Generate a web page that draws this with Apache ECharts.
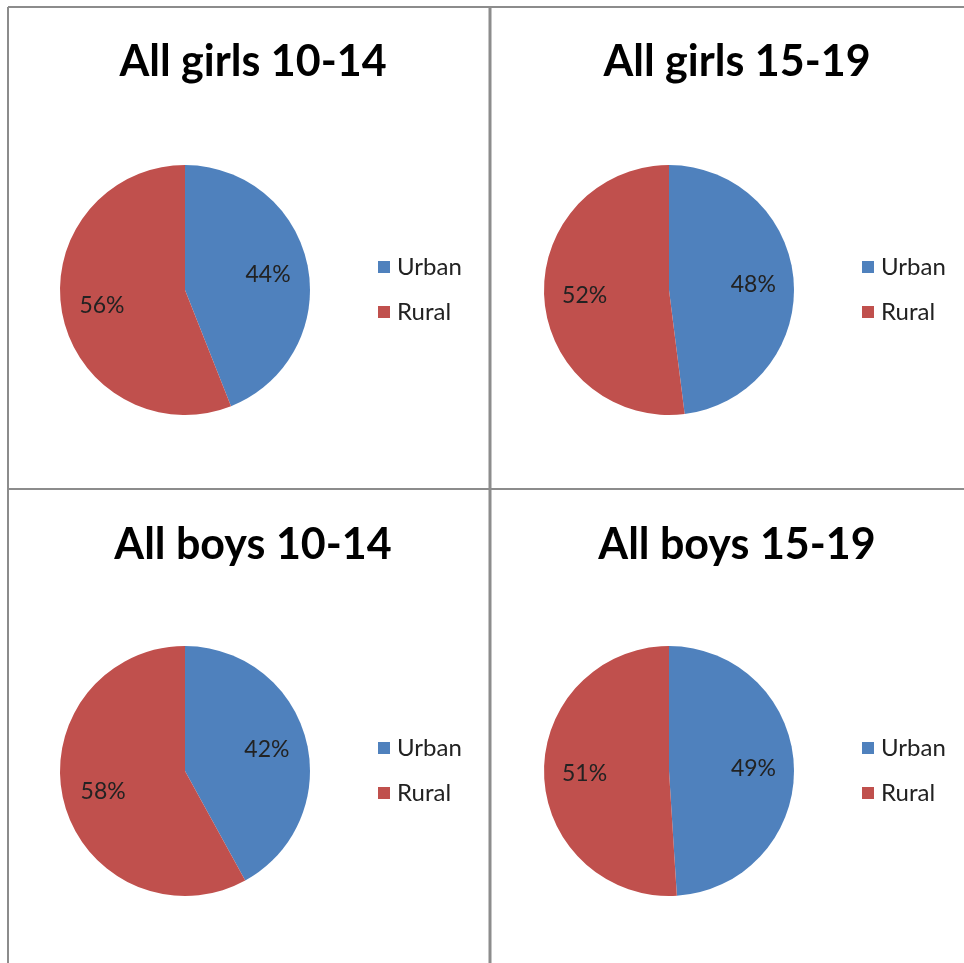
<!DOCTYPE html>
<html>
<head>
<meta charset="utf-8">
<script src="https://cdn.jsdelivr.net/npm/echarts@6/dist/echarts.min.js"></script>
<style>
  html, body { margin: 0; padding: 0; background: #fff; }
  #main { width: 964px; height: 963px; }
</style>
</head>
<body>
<div id="main"></div>
<script>
// chart data
const titles = ['All girls 10-14', 'All girls 15-19', 'All boys 10-14', 'All boys 15-19']
const categories = ['Urban', 'Rural']
const urbanShare = [44, 48, 42, 49]
const ruralShare = [56, 52, 58, 51]
const colors = ['#4F81BD', '#C0504D']

// panel layout: pie centres and title/legend anchors
const panels = [
  { cx: 185, cy: 290, tx: 248, ty: 36, lx: 373, ly: 250 },
  { cx: 669, cy: 290, tx: 732, ty: 36, lx: 857, ly: 250 },
  { cx: 185, cy: 771, tx: 248, ty: 519, lx: 373, ly: 731 },
  { cx: 669, cy: 771, tx: 732, ty: 519, lx: 857, ly: 731 }
]
const R = 125

let chart = echarts.init(document.getElementById('main'))

let series = []
let title = []
let legend = []

panels.forEach((p, i) => {
  let data = [
    { name: categories[0], value: urbanShare[i] },
    { name: categories[1], value: ruralShare[i] }
  ]
  // visible pie
  series.push({
    type: 'pie',
    center: [p.cx, p.cy],
    radius: [0, R],
    startAngle: 90,
    clockwise: true,
    silent: true,
    label: { show: false },
    labelLine: { show: false },
    itemStyle: { borderWidth: 0 },
    data: data
  })
  // transparent ring only used to place the percent labels
  series.push({
    type: 'pie',
    center: [p.cx, p.cy],
    radius: [38, R],
    startAngle: 90,
    clockwise: true,
    silent: true,
    itemStyle: { color: 'rgba(0,0,0,0)' },
    label: {
      show: true,
      position: 'inside',
      formatter: '{c}%',
      color: '#222',
      fontSize: 23,
      fontFamily: 'Lato'
    },
    labelLine: { show: false },
    data: data
  })
  title.push({
    text: titles[i],
    left: p.tx,
    top: p.ty,
    textAlign: 'center',
    textStyle: {
      fontFamily: 'Lato',
      fontWeight: 'bold',
      fontSize: 43,
      color: '#000'
    }
  })
  legend.push({
    orient: 'vertical',
    left: p.lx,
    top: p.ly,
    itemWidth: 12,
    itemHeight: 12,
    itemGap: 21,
    icon: 'rect',
    selectedMode: false,
    data: categories.map((c, k) => ({ name: c, itemStyle: { color: colors[k] } })),
    textStyle: { fontFamily: 'Lato', fontSize: 24, color: '#222', padding: [0, 0, 0, 2] }
  })
})

// panel borders
let lineStyle = { stroke: '#8c8c8c', lineWidth: 2 }
let graphic = [
  { type: 'line', shape: { x1: 8, y1: 7, x2: 964, y2: 7 }, style: lineStyle },
  { type: 'line', shape: { x1: 8, y1: 7, x2: 8, y2: 963 }, style: lineStyle },
  { type: 'line', shape: { x1: 490, y1: 7, x2: 490, y2: 963 }, style: { stroke: '#8c8c8c', lineWidth: 3 } },
  { type: 'line', shape: { x1: 8, y1: 489, x2: 964, y2: 489 }, style: lineStyle }
]

chart.setOption({
  color: colors,
  animation: false,
  title: title,
  legend: legend,
  graphic: graphic,
  series: series
})
</script>
</body>
</html>
